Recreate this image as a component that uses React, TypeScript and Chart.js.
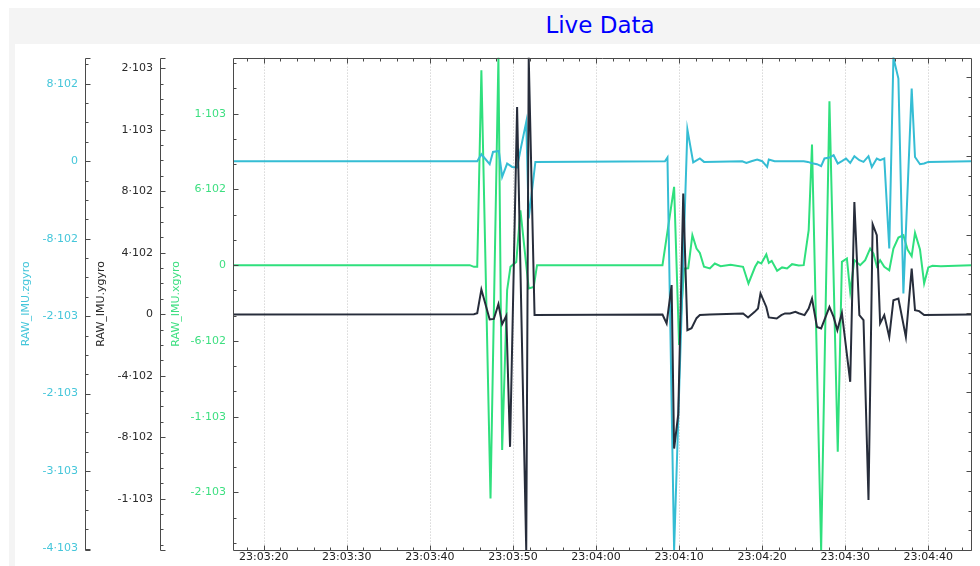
import React, { useEffect, useRef } from 'react';
import { Chart, registerables } from 'chart.js';

Chart.register(...registerables);

// ---------- data (time = seconds after 23:03:00) ----------
const timeMin = 16.3;
const timeMax = 105.14;
const xTickSeconds = [20, 30, 40, 50, 60, 70, 80, 90, 100];
const xTickLabels = ['23:03:20', '23:03:30', '23:03:40', '23:03:50', '23:04:00', '23:04:10', '23:04:20', '23:04:30', '23:04:40'];

const zgyroMin = -4015;
const zgyroMax = 1070;
const zgyroTickValues = [800, 0, -800, -1600, -2400, -3200, -4000];
const zgyroTickLabels = ['8·102', '0', '-8·102', '-2·103', '-2·103', '-3·103', '-4·103'];

const ygyroMin = -1534;
const ygyroMax = 1669;
const ygyroTickValues = [1600, 1200, 800, 400, 0, -400, -800, -1200];
const ygyroTickLabels = ['2·103', '1·103', '8·102', '4·102', '0', '-4·102', '-8·102', '-1·103'];

const xgyroMin = -2256;
const xgyroMax = 1644;
const xgyroTickValues = [1200, 600, 0, -600, -1200, -1800];
const xgyroTickLabels = ['1·103', '6·102', '0', '-6·102', '-1·103', '-2·103'];

const rightAxisMin = -3;
const rightAxisMax = 3.246;

const zgyroTime = [16.3, 45.7, 46.2, 47.2, 47.6, 48.3, 48.7, 49.3, 49.9, 50.5, 50.9, 51.6, 51.9, 52.7, 68.3, 68.6, 69.4, 71.0, 71.7, 72.5, 73.0, 77.6, 78.1, 78.7, 79.4, 80.0, 80.6, 80.8, 81.5, 85.0, 85.5, 86.0, 86.6, 87.1, 87.5, 88.1, 88.6, 89.1, 89.6, 90.1, 90.6, 91.1, 91.7, 92.2, 92.8, 93.2, 93.8, 94.2, 94.7, 95.3, 95.8, 96.4, 97.0, 98.0, 98.4, 99.0, 99.5, 100.0, 105.14];
const zgyroValues = [0, 0, 72, -31, 96, 106, -162, -24, -59, -65, 114, 406, -591, -7, 0, 38, -4015, 327, -13, 28, -7, 0, -18, 0, 18, 0, -59, 18, 0, 0, -7, -21, -31, -52, 28, 38, 62, -24, 0, 28, -18, 52, 10, -7, 52, -59, 28, 10, 28, -901, 1070, 853, -1365, 750, 44, -31, -24, -7, 0];

const ygyroTime = [16.3, 45.3, 45.7, 46.2, 47.2, 47.7, 48.25, 48.7, 49.2, 49.65, 50.5, 51.6, 51.9, 52.6, 68.0, 68.5, 69.1, 69.4, 69.9, 70.5, 71.0, 71.5, 72.1, 72.5, 73.7, 77.7, 78.3, 79.1, 79.5, 79.8, 80.5, 80.8, 81.75, 82.3, 82.75, 83.35, 84.0, 84.4, 85.1, 85.6, 86.0, 86.6, 87.1, 88.1, 88.6, 89.05, 89.6, 90.6, 91.1, 91.7, 92.2, 92.8, 93.3, 93.8, 94.2, 94.7, 95.3, 95.8, 96.4, 97.3, 98.0, 98.4, 98.9, 99.5, 105.14];
const ygyroValues = [-2, 0, 6, 161, -34, -31, 65, -65, -11, -863, 1348, -1534, 1669, -6, -2, -60, 189, -874, -650, 785, -104, -91, -26, -6, -2, 5, -21, 15, 37, 135, 47, -21, -28, -6, 5, 5, 15, 6, -6, 37, 102, -83, -93, 47, -18, -104, 8, -440, 730, -6, -39, -1209, 585, 514, -60, -6, -148, 91, 102, -148, 297, 26, 20, -6, -2];

const xgyroTime = [16.3, 44.8, 45.3, 45.7, 46.2, 47.3, 48.25, 48.7, 49.3, 49.7, 50.4, 50.9, 51.9, 52.5, 52.9, 68.0, 69.4, 70.0, 70.6, 71.1, 71.6, 72.1, 72.5, 73.0, 73.7, 74.3, 75.0, 76.2, 77.7, 78.35, 79.15, 79.5, 79.9, 80.5, 80.8, 81.15, 81.8, 82.4, 83.0, 83.6, 84.4, 85.0, 85.6, 86.0, 87.1, 88.1, 89.1, 89.6, 90.2, 90.6, 91.1, 91.8, 92.4, 93.0, 93.4, 93.8, 94.2, 94.7, 95.3, 95.8, 96.4, 97.0, 97.5, 98.0, 98.4, 99.0, 99.5, 100.0, 100.5, 101.5, 105.14];
const xgyroValues = [0, 0, -13, -13, 1544, -1847, 1644, -1464, -198, -13, 26, 435, -184, -172, 0, 0, 620, -633, -26, -24, 237, 132, 97, -13, -26, 13, -8, 3, -13, -145, -13, 26, 13, 85, 18, 34, -45, -18, -26, 8, -2, 0, 277, 955, -2256, 1298, -1478, 26, 53, -211, 40, 0, 40, 132, 92, -8, 40, -13, -40, 132, 219, 237, 124, 71, 256, 124, -145, -18, -5, -8, 0];

// ---------- styling ----------
const FONT = '"DejaVu Sans", sans-serif';
const C_Z = '#35bdd4';
const C_Y = '#272d3b';
const C_X = '#2fe07d';
const C_ZLABEL = '#45c6da';
const C_XLABEL = '#3ddf80';
const AXIS_COLOR = '#4a4a4a';
const GRID_COLOR = '#c4c4c4';

const yMinorTicks: Record<string, { minor: number; perMajor: number }> = {
  yz: { minor: 200, perMajor: 4 },
  yy: { minor: 100, perMajor: 4 },
  yx: { minor: 200, perMajor: 3 },
  yr: { minor: 0.25, perMajor: 4 },
};
const xMinorStep = 2;
const xMinorPerMajor = 5;

function tickList(min: number, max: number, minor: number, perMajor: number) {
  const out: { v: number; major: boolean }[] = [];
  for (let k = Math.ceil(min / minor - 1e-9); k * minor <= max + 1e-9; k++) {
    out.push({ v: k * minor, major: ((k % perMajor) + perMajor) % perMajor === 0 });
  }
  return out;
}

const px = (p: number) => Math.round(p) + 0.5;

const gridPlugin = {
  id: 'dottedGrid',
  beforeDatasetsDraw(chart: any) {
    const { ctx, chartArea: a, scales } = chart;
    ctx.save();
    ctx.lineWidth = 1;
    ctx.strokeStyle = GRID_COLOR;
    ctx.setLineDash([1, 2]);
    ctx.beginPath();
    for (const v of xTickSeconds) {
      const x = px(scales.x.getPixelForValue(v));
      ctx.moveTo(x, a.top);
      ctx.lineTo(x, a.bottom);
    }
    ctx.stroke();
    ctx.restore();
  },
};

const frameTicksPlugin = {
  id: 'frameTicks',
  afterDraw(chart: any) {
    const { ctx, chartArea: a, scales } = chart;
    const top = px(a.top);
    const bottom = px(a.bottom);
    const left = px(a.left);
    const right = px(a.right);
    ctx.save();
    ctx.lineWidth = 1;
    ctx.strokeStyle = AXIS_COLOR;

    // frame and outer axis lines
    ctx.beginPath();
    ctx.moveTo(left, top);
    ctx.lineTo(right, top);
    ctx.lineTo(right, bottom);
    ctx.lineTo(left, bottom);
    ctx.lineTo(left, top);
    for (const id of ['yz', 'yy']) {
      const xl = px(scales[id].right);
      ctx.moveTo(xl + 5, top);
      ctx.lineTo(xl, top);
      ctx.lineTo(xl, bottom);
      ctx.lineTo(xl + 5, bottom);
    }
    ctx.stroke();

    // y ticks
    ctx.beginPath();
    for (const id of ['yz', 'yy', 'yx', 'yr']) {
      const s = scales[id];
      const cfg = yMinorTicks[id];
      const xl = id === 'yr' ? right : px(s.right);
      const dir = id === 'yr' ? -1 : 1;
      for (const t of tickList(s.min, s.max, cfg.minor, cfg.perMajor)) {
        const y = px(s.getPixelForValue(t.v));
        const len = t.major ? 5 : 3;
        ctx.moveTo(xl, y);
        ctx.lineTo(xl + dir * len, y);
      }
    }
    ctx.stroke();

    // x ticks (bottom and mirrored top)
    const sx = scales.x;
    ctx.beginPath();
    for (const t of tickList(sx.min, sx.max, xMinorStep, xMinorPerMajor)) {
      const x = px(sx.getPixelForValue(t.v));
      const len = t.major ? 5 : 3;
      ctx.moveTo(x, bottom);
      ctx.lineTo(x, bottom - len);
      ctx.moveTo(x, top);
      ctx.lineTo(x, top + len);
    }
    ctx.stroke();
    ctx.restore();
  },
};

function leftAxis(weight: number, width: number, min: number, max: number, values: number[], labels: string[], color: string, title: string, titleTop: number) {
  return {
    type: 'linear',
    position: 'left',
    weight,
    min,
    max,
    afterBuildTicks: (s: any) => {
      s.ticks = values.map((v) => ({ value: v }));
    },
    afterFit: (s: any) => {
      s.width = width;
    },
    ticks: {
      color,
      font: { family: FONT, size: 11 },
      padding: 7,
      autoSkip: false,
      callback: (_v: any, i: number) => labels[i],
    },
    grid: { display: false, drawTicks: false },
    border: { display: false },
    title: {
      display: true,
      text: title,
      color,
      font: { family: FONT, size: 11 },
      padding: { top: titleTop, bottom: 0 },
    },
  };
}

const pts = (t: number[], v: number[]) => t.map((x, i) => ({ x, y: v[i] }));

export default function App() {
  const ref = useRef<HTMLCanvasElement>(null);

  useEffect(() => {
    if (!ref.current) return;
    const chart = new Chart(ref.current, {
      type: 'line',
      data: {
        datasets: [
          { label: 'RAW_IMU.ygyro', data: pts(ygyroTime, ygyroValues), yAxisID: 'yy', borderColor: C_Y, borderWidth: 2, pointRadius: 0, fill: false, tension: 0 },
          { label: 'RAW_IMU.zgyro', data: pts(zgyroTime, zgyroValues), yAxisID: 'yz', borderColor: C_Z, borderWidth: 2, pointRadius: 0, fill: false, tension: 0 },
          { label: 'RAW_IMU.xgyro', data: pts(xgyroTime, xgyroValues), yAxisID: 'yx', borderColor: C_X, borderWidth: 2, pointRadius: 0, fill: false, tension: 0 },
        ],
      },
      options: {
        animation: false,
        responsive: false,
        maintainAspectRatio: false,
        layout: { padding: { top: 13, right: 9, bottom: 0, left: 0 } },
        plugins: { legend: { display: false }, tooltip: { enabled: false }, title: { display: false } },
        scales: {
          x: {
            type: 'linear',
            position: 'bottom',
            min: timeMin,
            max: timeMax,
            afterBuildTicks: (s: any) => {
              s.ticks = xTickSeconds.map((v) => ({ value: v }));
            },
            afterFit: (s: any) => {
              s.height = 16;
            },
            ticks: {
              color: '#222',
              font: { family: FONT, size: 11 },
              padding: 1,
              maxRotation: 0,
              autoSkip: false,
              callback: (_v: any, i: number) => xTickLabels[i],
            },
            grid: { display: false, drawTicks: false },
            border: { display: false },
          },
          yz: leftAxis(3, 70, zgyroMin, zgyroMax, zgyroTickValues, zgyroTickLabels, C_ZLABEL, 'RAW_IMU.zgyro', 5),
          yy: leftAxis(2, 75, ygyroMin, ygyroMax, ygyroTickValues, ygyroTickLabels, '#2a2a2a', 'RAW_IMU.ygyro', 10),
          yx: leftAxis(1, 73, xgyroMin, xgyroMax, xgyroTickValues, xgyroTickLabels, C_XLABEL, 'RAW_IMU.xgyro', 10),
          yr: {
            type: 'linear',
            position: 'right',
            min: rightAxisMin,
            max: rightAxisMax,
            afterFit: (s: any) => {
              s.width = 0;
            },
            ticks: { display: false },
            grid: { display: false, drawTicks: false },
            border: { display: false },
          },
        },
      } as any,
      plugins: [gridPlugin, frameTicksPlugin],
    });
    return () => chart.destroy();
  }, []);

  return (
    <div style={{ position: 'fixed', left: 9, top: 8, right: 0, bottom: 0, background: '#f4f4f4', overflow: 'hidden' }}>
      <div
        style={{
          position: 'absolute',
          left: 0,
          top: 4,
          width: 1182,
          textAlign: 'center',
          color: '#0000ff',
          fontFamily: FONT,
          fontSize: 23,
          lineHeight: '27px',
        }}
      >
        Live Data
      </div>
      <div style={{ position: 'absolute', left: 6, top: 36, right: 0, bottom: 0, background: '#ffffff' }}>
        <canvas ref={ref} width={965} height={522} style={{ display: 'block' }} />
      </div>
    </div>
  );
}
